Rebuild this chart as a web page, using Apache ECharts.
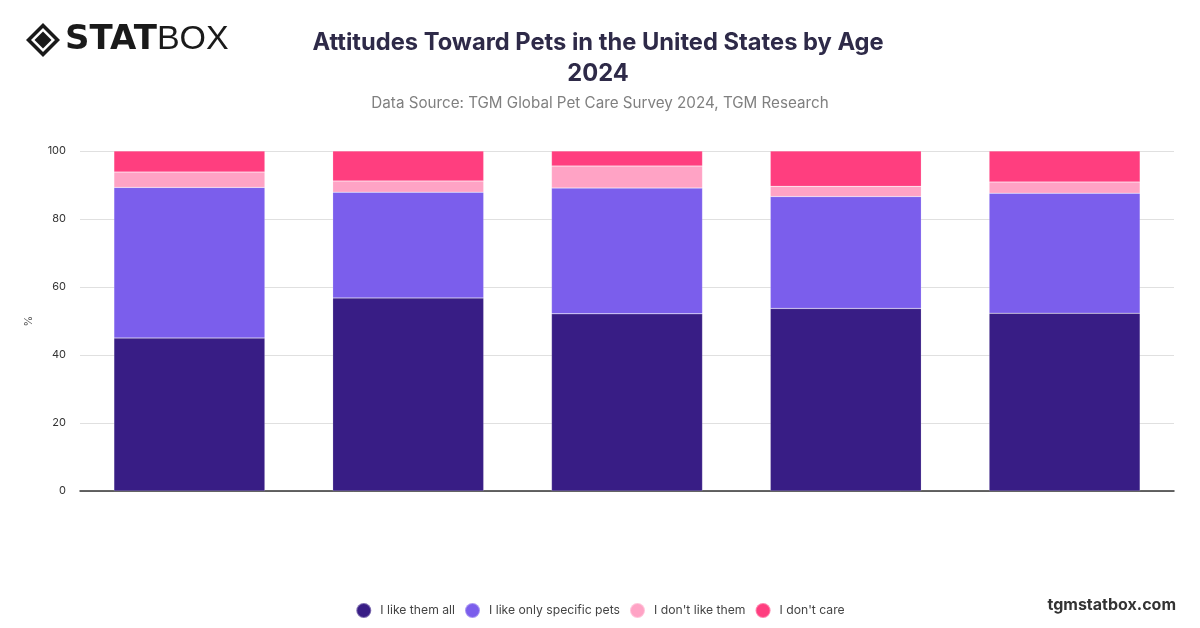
<!DOCTYPE html>
<html><head><meta charset="utf-8">
<script src="https://cdn.jsdelivr.net/npm/echarts@6/dist/echarts.min.js"></script>
<style>html,body{margin:0;padding:0;background:#fff}#c{width:1200px;height:628px}</style>
</head><body><div id="c"></div>
<script>
const categories = ['16-24', '25-34', '35-44', '45-54', '55+'];
const likeAll = [45.0, 56.8, 52.1, 53.7, 52.3];
const likeSpecific = [44.3, 31.1, 37.0, 32.9, 35.3];
const dontLike = [4.5, 3.3, 6.5, 3.0, 3.3];
const dontCare = [6.2, 8.8, 4.4, 10.4, 9.1];
const yTicks = [0, 20, 40, 60, 80, 100];

const colors = ['#381d85', '#7b5eec', '#ffa3c5', '#ff3e7f'];
const names = ['I like them all', 'I like only specific pets', "I don't like them", "I don't care"];
const seriesData = [likeAll, likeSpecific, dontLike, dontCare];

const chart = echarts.init(document.getElementById('c'));
chart.setOption({
  animation: false,
  color: colors,
  title: [{
    text: 'Attitudes Toward Pets in the United States by Age\n2024',
    left: 593, top: 22, textAlign: 'center',
    textStyle: {fontFamily: 'Inter', fontSize: 23.7, fontWeight: 'bold', color: '#2e2a48', lineHeight: 31}
  }, {
    text: 'Data Source: TGM Global Pet Care Survey 2024, TGM Research',
    left: 595, top: 91, textAlign: 'center',
    textStyle: {fontFamily: 'Inter', fontSize: 15.2, fontWeight: 'normal', color: '#808080'}
  }],
  legend: {
    bottom: 4, left: 'center', itemWidth: 15, itemHeight: 15, itemGap: 9,
    icon: 'circle',
    textStyle: {fontFamily: 'Inter', fontSize: 12.2, color: '#444', padding: [0, 0, 0, 4]},
    data: names
  },
  grid: {left: 80, right: 26, top: 151, bottom: 137},
  xAxis: {
    type: 'category', data: categories,
    axisLine: {lineStyle: {color: '#333', width: 1.5}},
    axisTick: {show: false}, axisLabel: {show: false}
  },
  yAxis: {
    type: 'value', min: 0, max: 100, interval: 20,
    name: '%', nameLocation: 'middle', nameGap: 46, nameRotate: 90,
    nameTextStyle: {fontFamily: 'Inter', fontSize: 11, color: '#555'},
    axisLabel: {fontFamily: 'Inter', fontSize: 11, color: '#333', margin: 14,
      formatter: v => yTicks.includes(v) ? String(v) : ''},
    splitLine: {lineStyle: {color: '#e0e0e0'}},
    axisLine: {show: false}, axisTick: {show: false}
  },
  series: seriesData.map((d, i) => ({
    name: names[i], type: 'bar', stack: 'total', data: d,
    barCategoryGap: '31%',
    itemStyle: {borderColor: 'rgba(255,255,255,0.35)', borderWidth: 0.5}
  })),
  graphic: [
    {type: 'group', left: 26, top: 23, children: [
      {type: 'polygon', shape: {points: [[17,0],[34,17],[17,34],[0,17]]}, style: {fill: '#1a1a1a'}},
      {type: 'polygon', shape: {points: [[17,5],[29,17],[17,29],[5,17]]}, style: {fill: '#fff'}},
      {type: 'polygon', shape: {points: [[17,8.5],[25.5,17],[17,25.5],[8.5,17]]}, style: {fill: '#1a1a1a'}},
      {type: 'text', x: 39, y: 0, style: {
        text: '{a|STAT}{b|BOX}',
        rich: {
          a: {fontFamily: 'DejaVu Sans', fontSize: 34, fontWeight: 900, fill: '#1a1a1a'},
          b: {fontFamily: 'Liberation Sans', fontSize: 34, fontWeight: 'normal', fill: '#1a1a1a'}
        }
      }}
    ]},
    {type: 'text', right: 24, top: 597, style: {
      text: 'tgmstatbox.com', fontFamily: 'Inter', fontSize: 16, fontWeight: 'bold', fill: '#333'
    }}
  ]
});
</script></body></html>
